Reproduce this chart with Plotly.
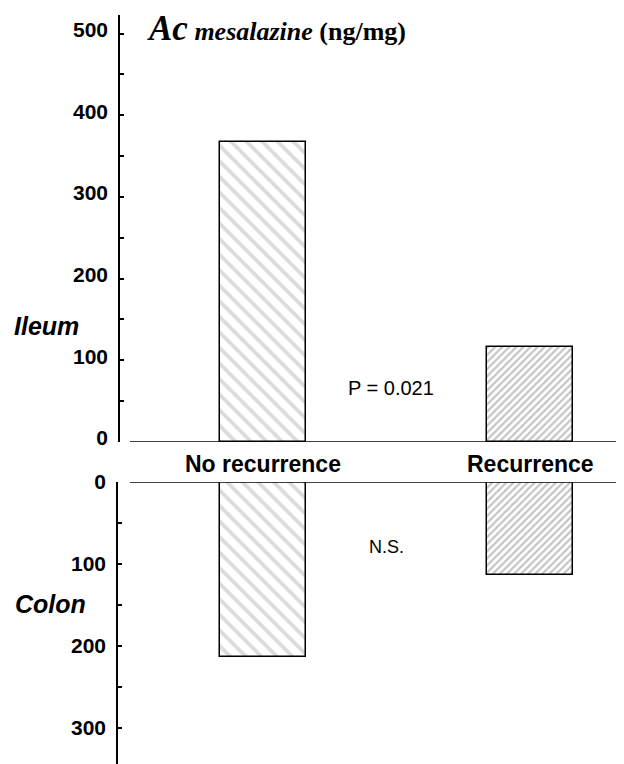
import plotly.graph_objects as go

categories = ["No recurrence", "Recurrence"]
ileum_values = [367, 116]
colon_values = [213, 113]
ileum_ticks = [0, 100, 200, 300, 400, 500]
colon_ticks = [0, 100, 200, 300]

# page has an 8px body margin; figure fills the rest of the 624x764 window
OFF = 8
W, H = 624 - OFF, 764 - OFF

def X(x):
    return x - OFF

def Y(y):
    return y - OFF

L = X(118)
PW = W - L

def px(x):
    return (X(x) - L) / PW

def py(y):
    return 1 - Y(y) / H

# category index -> target pixel mapping
c0, scale = 263.0, 267.0
xpos = [0, 1]

def xr(p0, p1):
    return [(p0 - c0) / scale, (p1 - c0) / scale]

patterns = [
    dict(shape="\\", fgcolor="#b8b8b8", bgcolor="white", size=11, solidity=0.35),
    dict(shape="/", fgcolor="#8a8a8a", bgcolor="white", size=5, solidity=0.45),
]

fig = go.Figure()
for i, cat in enumerate(categories):
    fig.add_trace(go.Bar(
        x=[xpos[i]], y=[ileum_values[i]], width=0.325,
        marker=dict(color="white", pattern=patterns[i], line=dict(color="black", width=1.5)),
        xaxis="x", yaxis="y", showlegend=False, name=cat,
    ))
    fig.add_trace(go.Bar(
        x=[xpos[i]], y=[colon_values[i]], width=0.325,
        marker=dict(color="white", pattern=patterns[i], line=dict(color="black", width=1.5)),
        xaxis="x2", yaxis="y2", showlegend=False, name=cat,
    ))

tickfont = dict(family="Liberation Sans", size=21, color="black", weight="bold")
yax_common = dict(
    showline=True, linecolor="black", linewidth=1.5, showgrid=False, zeroline=False,
    ticks="inside", ticklen=4, tickwidth=1.5, tickcolor="black",
    minor=dict(dtick=50, ticks="inside", ticklen=4, tickwidth=1.5, tickcolor="black", showgrid=False),
    tickfont=tickfont, ticklabelstandoff=6, automargin=False,
)

top_y0, top_y1 = 442, 15
bot_y0, bot_y1 = 482, 764
unit_top = 0.817
unit_bot = 0.82

fig.update_layout(
    width=W, height=H,
    margin=dict(l=L, r=0, t=0, b=0, autoexpand=False),
    paper_bgcolor="white", plot_bgcolor="white",
    bargap=0,
    xaxis=dict(domain=[px(120), 1], range=xr(120, 624), visible=False, anchor="y", automargin=False),
    xaxis2=dict(domain=[0, 1], range=xr(118, 624), visible=False, anchor="y2", automargin=False),
    yaxis=dict(domain=[py(top_y0), py(top_y1)], range=[0, (top_y0 - top_y1) / unit_top],
               tickvals=ileum_ticks, anchor="x", ticklabelshift=-4, **yax_common),
    yaxis2=dict(domain=[0, py(bot_y0)], range=[(bot_y1 - bot_y0) / unit_bot, 0],
                tickvals=colon_ticks, anchor="x2", **yax_common),
)

# horizontal baseline lines
fig.add_shape(type="line", xref="paper", yref="y", x0=px(130), x1=1, y0=0, y1=0,
              line=dict(color="black", width=1.5))
fig.add_shape(type="line", xref="paper", yref="y2", x0=px(130), x1=1, y0=0, y1=0,
              line=dict(color="black", width=1.5))

catfont = dict(family="Liberation Sans", size=23, color="black", weight="bold")
for i, cat in enumerate(categories):
    fig.add_annotation(x=xpos[i], xref="x", y=py(464), yref="paper", text=cat,
                       showarrow=False, font=catfont, xanchor="center", yanchor="middle")

sidefont = dict(family="Liberation Sans", size=25, color="black", weight="bold", style="italic")
fig.add_annotation(x=px(12), y=py(326), xref="paper", yref="paper", text="Ileum",
                   showarrow=False, font=sidefont, xanchor="left", yanchor="middle")
fig.add_annotation(x=px(13), y=py(604), xref="paper", yref="paper", text="Colon",
                   showarrow=False, font=sidefont, xanchor="left", yanchor="middle")

fig.add_annotation(x=px(391), y=py(388), xref="paper", yref="paper", text="P = 0.021",
                   showarrow=False, font=dict(family="Liberation Sans", size=20, color="black"),
                   xanchor="center", yanchor="middle")
fig.add_annotation(x=px(386), y=py(547), xref="paper", yref="paper", text="N.S.",
                   showarrow=False, font=dict(family="Liberation Sans", size=18, color="black"),
                   xanchor="center", yanchor="middle")

fig.add_annotation(
    x=px(145), y=py(28), xref="paper", yref="paper",
    text="<b><i><span style='font-size:35px'>Ac</span> mesalazine</i> (ng/mg)</b>",
    showarrow=False, font=dict(family="Liberation Serif", size=26, color="black"),
    xanchor="left", yanchor="middle",
)

fig.write_html("out.html")
